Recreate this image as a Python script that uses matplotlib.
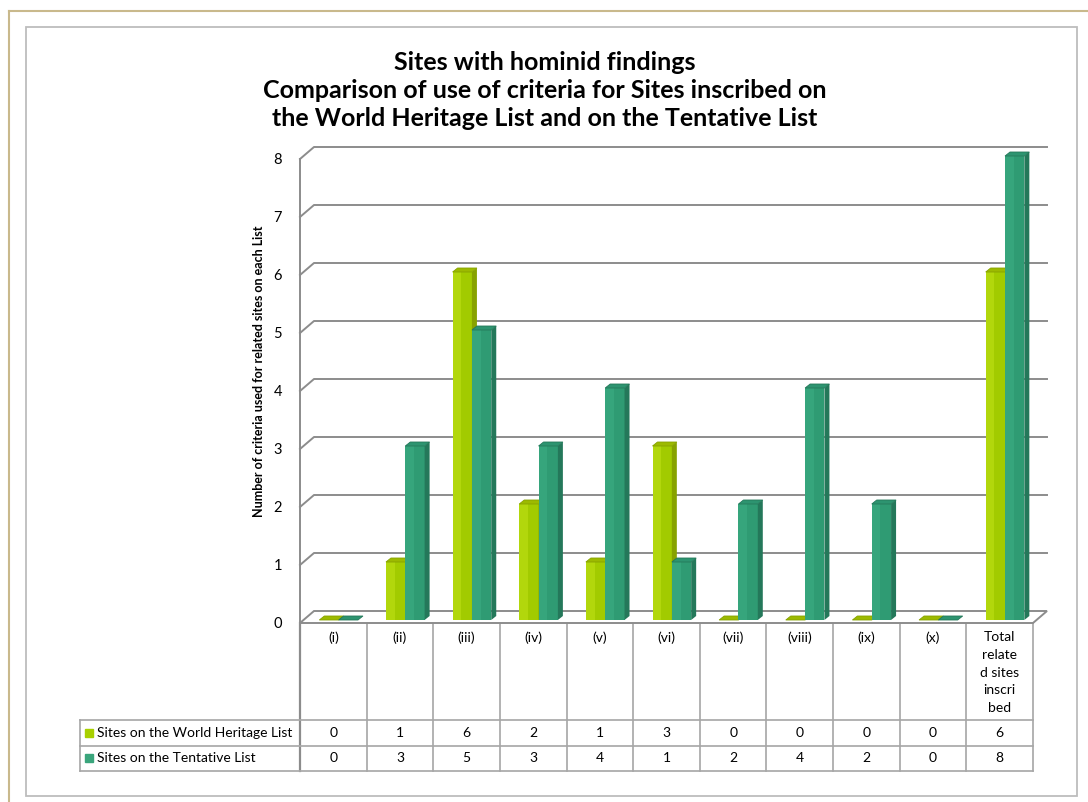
import matplotlib
matplotlib.use("Agg")
import matplotlib.pyplot as plt
from matplotlib.patches import Polygon, Rectangle
from matplotlib.transforms import blended_transform_factory

plt.rcParams['font.family'] = ['Lato', 'DejaVu Sans']

# data
categories = ["(i)", "(ii)", "(iii)", "(iv)", "(v)", "(vi)", "(vii)", "(viii)", "(ix)", "(x)",
              "Total\nrelate\nd sites\ninscri\nbed"]
world_heritage = [0, 1, 6, 2, 1, 3, 0, 0, 0, 0, 6]
tentative = [0, 3, 5, 3, 4, 1, 2, 4, 2, 0, 8]
series_names = ["Sites on the World Heritage List", "Sites on the Tentative List"]
y_ticks = [0, 1, 2, 3, 4, 5, 6, 7, 8]

title_lines = ["Sites with hominid findings",
               "Comparison of use of criteria for Sites inscribed on",
               "the World Heritage List and on the Tentative List"]
ylabel = "Number of criteria used for related sites on each List"

W, H = 1088, 802
fig = plt.figure(figsize=(W / 100, H / 100), dpi=100)

# background canvas in pixel units
bg = fig.add_axes([0, 0, 1, 1])
bg.set_xlim(0, W)
bg.set_ylim(H, 0)
bg.axis('off')

# frames
bg.plot([9, 9], [11, H], color='#c9b98c', lw=1.5)
bg.plot([9, W], [11, 11], color='#c9b98c', lw=1.5)
bg.add_patch(Rectangle((26, 27), 1077 - 26, 796 - 27, fill=False, ec='#bdbdbd', lw=1.3))

# plot area (front plane) in pixels
L, R, B, T = 300, 1033, 623, 159
n = len(categories)
ax = fig.add_axes([L / W, 1 - B / H, (R - L) / W, (B - T) / H])
ax.set_xlim(0, n)
ax.set_ylim(0, 8)
ax.patch.set_alpha(0)
for s in ax.spines.values():
    s.set_visible(False)
ax.set_xticks([])
ax.set_yticks(y_ticks)
ax.tick_params(axis='y', length=0, pad=13, labelsize=10.5)
ax.set_ylabel(ylabel, fontsize=9, fontweight='bold')
ax.yaxis.set_label_coords(-0.048, (B - 371) / (B - T))

ux = (R - L) / n
uy = (B - T) / 8.0


def off(px, py):
    return px / ux, py / uy


grid_c = '#8c8c8c'
wx, wy = off(14, 12)

# floor
ax.add_patch(Polygon([(0, 0), (n, 0), (n + wx, wy), (wx, wy)], closed=True,
                     fc='white', ec=grid_c, lw=1.4, clip_on=False, zorder=1))
# back wall gridlines
for v in y_ticks[1:]:
    ax.plot([0, wx, n + wx], [v, v + wy, v + wy], color=grid_c, lw=1.4,
            clip_on=False, zorder=1)
ax.plot([0, 0], [0, 8], color=grid_c, lw=1.4, clip_on=False, zorder=1)

# 3d bars (front face split in a light and a darker half for shading)
fx, fy = off(3, 3)
dx, dy = off(5, 4)
bw = 0.29
styles = [('#b2d70c', '#a2cb00', '#9cba00', '#87a200', 0.245),
          ('#36a57c', '#2f9b73', '#2d9470', '#24785a', 0.245 + bw)]
z = 2
for i in range(n):
    for vals, (front, front2, top, side, pos) in zip([world_heritage, tentative], styles):
        v = vals[i]
        x0 = i + pos + fx
        y0 = fy
        y1 = v + fy
        ax.bar(x0, v, width=bw, bottom=y0, align='edge', color=front,
               lw=0, zorder=z, clip_on=False)
        ax.bar(x0 + bw * 0.45, v, width=bw * 0.55, bottom=y0, align='edge',
               color=front2, lw=0, zorder=z, clip_on=False)
        ax.add_patch(Polygon([(x0 + bw, y0), (x0 + bw, y1), (x0 + bw + dx, y1 + dy),
                              (x0 + bw + dx, y0 + dy)], closed=True, fc=side, lw=0,
                             zorder=z, clip_on=False))
        ax.add_patch(Polygon([(x0, y1), (x0 + bw, y1), (x0 + bw + dx, y1 + dy),
                              (x0 + dx, y1 + dy)], closed=True, fc=top, ec=side, lw=0.6,
                             zorder=z, clip_on=False))
        z += 1

# title
for k, line in enumerate(title_lines):
    bg.text(545, 62 + 28.5 * k, line, ha='center', va='center', fontsize=18,
            fontweight='bold')

# data table below
tr = blended_transform_factory(ax.transData, bg.transData)
tab_c = '#a6a6a6'
row_top, row1, row2, row3 = 623, 720, 746, 771
for i in range(n + 1):
    bg.plot([i, i], [row_top, row3], color=tab_c if i else '#8c8c8c',
            lw=1.2 if i else 1.6, transform=tr)
for yy in (row1, row2, row3):
    bg.plot([80, L], [yy, yy], color=tab_c, lw=1.2)
    bg.plot([0, n], [yy, yy], color=tab_c, lw=1.2, transform=tr)
bg.plot([80, 80], [row1, row3], color=tab_c, lw=1.2)

fs = 10
for i, lab in enumerate(categories):
    bg.text(i + 0.5, 631, lab, ha='center', va='top', fontsize=fs,
            linespacing=1.58, transform=tr)
    bg.text(i + 0.5, (row1 + row2) / 2, str(world_heritage[i]), ha='center',
            va='center', fontsize=fs, transform=tr)
    bg.text(i + 0.5, (row2 + row3) / 2, str(tentative[i]), ha='center',
            va='center', fontsize=fs, transform=tr)

for k, (name, col) in enumerate(zip(series_names, ['#a8d000', '#3aa57c'])):
    yc = (row1 + row2) / 2 if k == 0 else (row2 + row3) / 2
    bg.add_patch(Rectangle((85, yc - 4.5), 8, 8, color=col))
    bg.text(97, yc, name, ha='left', va='center', fontsize=fs)

fig.savefig('out.png', dpi=100)
